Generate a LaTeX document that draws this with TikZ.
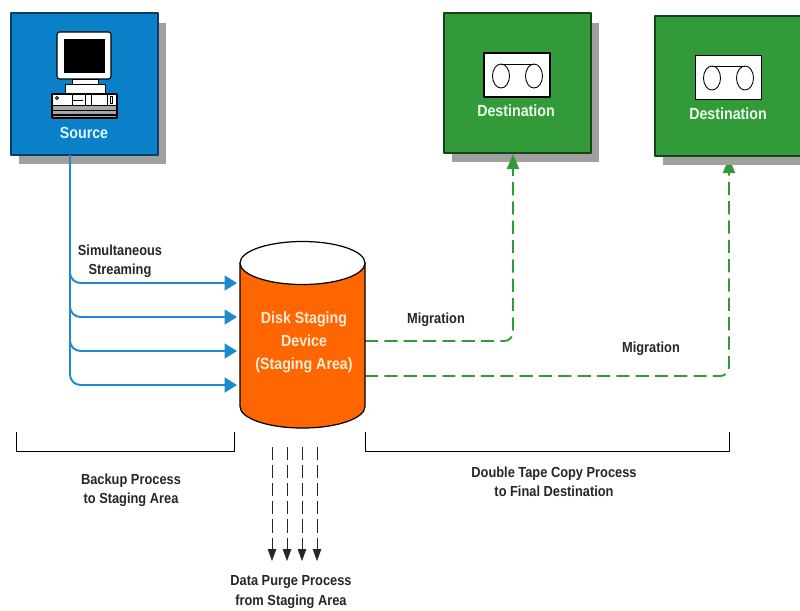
\documentclass[tikz,border=0pt]{standalone}
\usepackage{fontspec}
\setmainfont[FakeStretch=0.88]{Liberation Sans}
\usetikzlibrary{arrows.meta,shadows}
\definecolor{srcblue}{HTML}{0A80C8}
\definecolor{srcedge}{HTML}{0B3F5F}
\definecolor{lineblue}{HTML}{1B8CCB}
\definecolor{destgreen}{HTML}{339A3A}
\definecolor{destedge}{HTML}{14451A}
\definecolor{diskorange}{HTML}{FF6600}
\definecolor{shadegray}{HTML}{A0A0A0}
\tikzset{
	boxshade/.style={copy shadow={shadow xshift=0.16cm,shadow yshift=-0.19cm,fill=shadegray,draw=none}},
	sourcebox/.style={draw=srcedge,line width=0.8pt,fill=srcblue,minimum width=2.94cm,minimum height=2.84cm,inner sep=0pt,outer sep=0pt,boxshade},
	destbox/.style={draw=destedge,line width=0.8pt,fill=destgreen,minimum width=2.94cm,minimum height=2.8cm,inner sep=0pt,outer sep=0pt,boxshade},
	tapebox/.style={draw=black,line width=0.6pt,fill=white,minimum width=1.32cm,minimum height=0.88cm,inner sep=0pt,outer sep=0pt},
	caption/.style={font=\fontsize{8.3}{11.1}\selectfont\bfseries,text=black!85,align=center,inner sep=0pt},
	boxtitle/.style={font=\fontsize{9.2}{13}\selectfont\bfseries,align=center,inner sep=0pt},
	streamline/.style={draw=lineblue,line width=1.1pt,rounded corners=6pt,-{Triangle[length=0.25cm,width=0.3cm]}},
	migrateline/.style={draw=destgreen,line width=1.1pt,rounded corners=5pt,dash pattern=on 7.5pt off 3.5pt,-{Triangle[length=0.3cm,width=0.24cm]}},
	purgeline/.style={draw=black!85,line width=0.5pt,dash pattern=on 7.5pt off 2.8pt,-{Triangle[length=0.24cm,width=0.17cm]}},
}
\begin{document}
\begin{tikzpicture}[x=0.02cm,y=-0.02cm,line join=round]
		\clip (0,0) rectangle (800,610);
		\coordinate (trunk) at (70,155);
		\coordinate (streamA) at (237,283);
		\coordinate (streamB) at (237,317);
		\coordinate (streamC) at (237,351);
		\coordinate (streamD) at (237,385);
		\coordinate (migrateA) at (365,341);
		\coordinate (migrateB) at (365,376);
		\coordinate (destinA) at (513,154);
		\coordinate (destinB) at (729,158);
		\draw[migrateline] (migrateB) -| (destinB);
		\node[destbox] (destA) at (517.5,83) {};
		\node[destbox] (destB) at (728.5,86) {};
		\node[sourcebox] (source) at (84.5,84) {};
		\draw[migrateline] (migrateA) -| (destinA);
		\node[tapebox] (tapeA) at (517,75) {};
		\draw[line width=0.5pt] (501,76) ellipse (8.5 and 12);
		\draw[line width=0.5pt] (534,76) ellipse (8.5 and 12);
		\draw[line width=0.5pt] (501,64)--(534,64);
		\node[tapebox] (tapeB) at (728.5,77.5) {};
		\draw[line width=0.5pt] (712,78) ellipse (8.5 and 12);
		\draw[line width=0.5pt] (745,78) ellipse (8.5 and 12);
		\draw[line width=0.5pt] (712,66)--(745,66);
		\node[boxtitle,text=green!8!white] (destlabelA) at (516,111) {Destination};
		\node[boxtitle,text=green!8!white] (destlabelB) at (728,114) {Destination};
		\draw[fill=white,rounded corners=1.5pt,line width=0.6pt] (57,32) rectangle (111,79);
		\fill[black] (64,39) rectangle (105,73);
		\draw[fill=white,line width=0.5pt] (72,79) rectangle (98,84);
		\draw[fill=white,line width=0.5pt] (65,84) rectangle (105,94);
		\draw[fill=white,line width=0.8pt] (52,94) rectangle (117,118);
		\fill[black!35] (53,105) rectangle (116,117);
		\draw[line width=0.5pt] (52,105)--(117,105);
		\draw[line width=0.5pt] (52,110)--(117,110);
		\draw[line width=0.8pt] (53,115)--(116,115);
		\draw[line width=0.5pt] (72,94)--(72,105);
		\draw[line width=0.5pt] (85,94)--(85,105);
		\draw[line width=0.5pt] (91,94)--(91,105);
		\draw[line width=0.5pt] (73,100)--(83,100);
		\draw[line width=0.5pt] (107,94)--(107,105);
		\draw[line width=0.5pt] (110,96) rectangle (112,103);
		\draw[line width=0.5pt] (57,98) circle (1.5);
		\node[boxtitle,text=cyan!12!white] (sourcelabel) at (84,133) {Source};
		\draw[streamline] (trunk) |- (streamA);
		\draw[streamline] (trunk) |- (streamB);
		\draw[streamline] (trunk) |- (streamC);
		\draw[streamline] (trunk) |- (streamD);
		\draw[line width=0.7pt,fill=diskorange] (240,263)--(240,406.5) arc[start angle=180,end angle=0,x radius=62.5,y radius=21.5]--(365,263)--cycle;
		\draw[line width=0.7pt,fill=white] (302.5,263) ellipse (62.5 and 21.5);
		\node[boxtitle,text=orange!15!white] (disklabel) at (304,342) {Disk Staging\\Device\\(Staging Area)};
		\node[caption] (simul) at (120,261) {Simultaneous\\Streaming};
		\node[caption] (migtextA) at (436,320) {Migration};
		\node[caption] (migtextB) at (651,349) {Migration};
		\draw[line width=0.5pt] (16,432)--(16,451)--(234,451)--(234,432);
		\draw[line width=0.5pt] (365,432)--(365,451)--(729,451)--(729,432);
		\node[caption] (backup) at (131,490) {Backup Process\\to Staging Area};
		\node[caption] (double) at (554,482) {Double Tape Copy Process\\to Final Destination};
		\coordinate (purgeA) at (272,447);
		\coordinate (purgeB) at (287,447);
		\coordinate (purgeC) at (302,447);
		\coordinate (purgeD) at (317,447);
		\coordinate (sinkA) at (272,561);
		\coordinate (sinkB) at (287,561);
		\coordinate (sinkC) at (302,561);
		\coordinate (sinkD) at (317,561);
		\draw[purgeline] (purgeA)--(sinkA);
		\draw[purgeline] (purgeB)--(sinkB);
		\draw[purgeline] (purgeC)--(sinkC);
		\draw[purgeline] (purgeD)--(sinkD);
		\node[caption] (purge) at (291,592) {Data Purge Process\\from Staging Area};
\end{tikzpicture}
\end{document}
